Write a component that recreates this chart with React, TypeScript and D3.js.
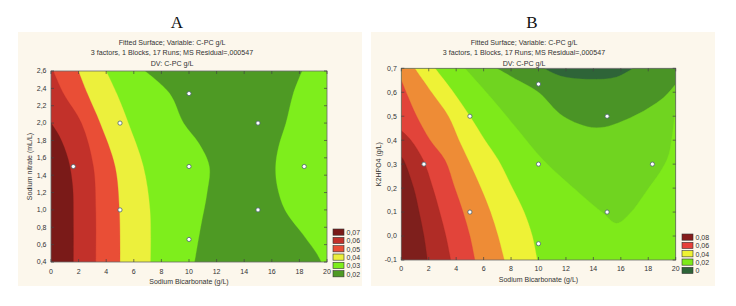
import React from "react";
import * as d3 from "d3";

type P = [number, number];

// ---------- shared text ----------
const TITLE_LINES = [
  "Fitted Surface; Variable: C-PC g/L",
  "3 factors, 1 Blocks, 17 Runs; MS Residual=,000547",
  "DV: C-PC g/L",
];
const X_LABEL = "Sodium Bicarbonate (g/L)";
const X_TICKS = [0, 2, 4, 6, 8, 10, 12, 14, 16, 18, 20];

// ---------- panel A data ----------
const A_Y_TICKS = [0.4, 0.6, 0.8, 1.0, 1.2, 1.4, 1.6, 1.8, 2.0, 2.2, 2.4, 2.6];
const A_Y_LABEL = "Sodium nitrate (mL/L)";
const A_LEGEND_LABELS = ["0,07", "0,06", "0,05", "0,04", "0,03", "0,02"];
const A_LEGEND_COLORS = ["#7a1a18", "#c2312a", "#e94e36", "#ecf03c", "#7eee1c", "#4e9a24"];
const A_BASE_COLOR = "#4e9a24";
// contour boundaries (x, y)
const A_LEVEL_003_LEFT: P[] = [[6.8, 2.6], [8.6, 2.34], [9.6, 2.0], [10.7, 1.77], [11.47, 1.5], [11.3, 1.19], [10.85, 0.81], [10.4, 0.4]];
const A_LEVEL_003_RIGHT: P[] = [[18.2, 2.6], [17.56, 2.34], [17.03, 2.0], [16.5, 1.73], [16.28, 1.5], [16.4, 1.27], [16.96, 1.0], [18.2, 0.73], [19.25, 0.5], [19.6, 0.4]];
const A_LEVEL_004: P[] = [[3.99, 2.6], [4.76, 2.34], [5.6, 2.0], [6.69, 1.5], [7.17, 1.0], [7.2, 0.4]];
const A_LEVEL_005: P[] = [[1.98, 2.6], [2.63, 2.34], [3.55, 2.0], [4.64, 1.5], [4.95, 1.0], [5.0, 0.4]];
const A_LEVEL_006: P[] = [[0.17, 2.6], [0.9, 2.34], [2.2, 2.0], [3.07, 1.5], [3.24, 1.0], [3.24, 0.4]];
const A_LEVEL_007: P[] = [[0, 2.0], [0.6, 1.85], [1.25, 1.58], [1.57, 1.27], [1.62, 0.9], [1.62, 0.4]];
const A_POINTS: P[] = [[1.62, 1.5], [5, 2.0], [5, 1.0], [10, 2.34], [10, 1.5], [10, 0.66], [15, 2.0], [15, 1.0], [18.35, 1.5]];

// ---------- panel B data ----------
const B_Y_TICKS = [-0.1, 0.0, 0.1, 0.2, 0.3, 0.4, 0.5, 0.6, 0.7];
const B_Y_LABEL = "K2HPO4 (g/L)";
const B_LEGEND_LABELS = ["0,08", "0,06", "0,04", "0,02", "0"];
const B_LEGEND_COLORS = ["#861c1c", "#e6403a", "#eef234", "#7eea1a", "#2e6438"];
const B_BASE_COLOR = "#2e6438";
const B_LEVEL_001: P[] = [[10.4, 0.7], [11.6, 0.668], [13.75, 0.654], [15.7, 0.664], [16.9, 0.7]];
const B_LEVEL_002: P[] = [[6.95, 0.7], [8.5, 0.65], [10, 0.6], [11.8, 0.5], [14.2, 0.452], [16.7, 0.494], [19.1, 0.577], [20, 0.634]];
const B_LEVEL_003: P[] = [[4.64, 0.7], [6.5, 0.58], [8.4, 0.45], [10.35, 0.317], [13.0, 0.178], [14.72, 0.095], [15.7, 0.053], [16.67, 0.095], [17.76, 0.178], [19.35, 0.317], [19.75, 0.42], [20, 0.55]];
const B_LEVEL_004: P[] = [[2.46, 0.7], [3.8, 0.6], [5.0, 0.5], [6.1, 0.4], [7.07, 0.317], [8.1, 0.2], [8.95, 0.1], [9.55, 0.0], [9.9, -0.1]];
const B_LEVEL_005: P[] = [[0.97, 0.7], [2.2, 0.6], [3.43, 0.5], [4.2, 0.4], [4.88, 0.317], [5.8, 0.2], [6.5, 0.1], [7.05, 0.0], [7.5, -0.1]];
const B_LEVEL_006: P[] = [[0, 0.65], [0.5, 0.58], [1.12, 0.5], [2.1, 0.4], [3.18, 0.317], [3.9, 0.2], [4.5, 0.1], [5.0, 0.0], [5.36, -0.1]];
const B_LEVEL_007: P[] = [[0, 0.44], [0.7, 0.4], [1.6, 0.317], [2.3, 0.2], [2.8, 0.1], [3.25, 0.0], [3.6, -0.1]];
const B_LEVEL_008: P[] = [[0, 0.33], [0.17, 0.317], [0.9, 0.2], [1.3, 0.1], [1.65, 0.0], [1.9, -0.1]];
const B_POINTS: P[] = [[1.65, 0.3], [5, 0.5], [5, 0.1], [10, 0.634], [10, 0.3], [10, -0.032], [15, 0.5], [15, 0.1], [18.3, 0.3]];

type Region = { pts: P[]; close: P[]; color: string };

type PanelCfg = {
  id: string;
  letter: string;
  letterX: number;
  bg: [number, number, number, number];
  titleX: number;
  plot: { x0: number; x1: number; y0: number; y1: number };
  yDomain: [number, number];
  yTicks: number[];
  yLabel: string;
  yLabelX: number;
  xTickY: number;
  xLabelY: number;
  baseColor: string;
  regions: Region[];
  points: P[];
  legendX: number;
  legendY: number;
  legendLabels: string[];
  legendColors: string[];
};

const FONT = "'Liberation Sans', Arial, sans-serif";
const fmt = (v: number) => (Math.abs(v) < 1e-9 ? "0,0" : v.toFixed(1).replace(".", ","));

function Panel({ c }: { c: PanelCfg }) {
  const { plot } = c;
  const x = d3.scaleLinear().domain([0, 20]).range([plot.x0, plot.x1]);
  const y = d3.scaleLinear().domain(c.yDomain).range([plot.y1, plot.y0]);
  const line = d3
    .line<P>()
    .x((d) => x(d[0]))
    .y((d) => y(d[1]))
    .curve(d3.curveCatmullRom.alpha(0.5));
  const regionPath = (r: Region) =>
    (line(r.pts) || "") + r.close.map((p) => `L${x(p[0])},${y(p[1])}`).join("") + "Z";
  const clipId = `clip-${c.id}`;
  const tickLen = 3;
  return (
    <g>
      <rect x={c.bg[0]} y={c.bg[1]} width={c.bg[2] - c.bg[0]} height={c.bg[3] - c.bg[1]} fill="#fcf7ec" />
      <text x={c.letterX} y={28} fontFamily="'Liberation Serif', 'Times New Roman', serif" fontSize={17} textAnchor="middle" fill="#111">
        {c.letter}
      </text>
      {TITLE_LINES.map((t, i) => (
        <text key={i} x={c.titleX} y={44.5 + i * 10.6} fontFamily={FONT} fontSize={7.1} textAnchor="middle" fill="#333">
          {t}
        </text>
      ))}
      <defs>
        <clipPath id={clipId}>
          <rect x={plot.x0} y={plot.y0} width={plot.x1 - plot.x0} height={plot.y1 - plot.y0} />
        </clipPath>
      </defs>
      <g clipPath={`url(#${clipId})`}>
        <rect x={plot.x0} y={plot.y0} width={plot.x1 - plot.x0} height={plot.y1 - plot.y0} fill={c.baseColor} />
        {c.regions.map((r, i) => (
          <path key={i} d={regionPath(r)} fill={r.color} stroke={r.color} strokeWidth={0.3} />
        ))}
      </g>
      <rect x={plot.x0} y={plot.y0} width={plot.x1 - plot.x0} height={plot.y1 - plot.y0} fill="none" stroke="#6a6a6a" strokeWidth={0.8} />
      {X_TICKS.map((t) => (
        <g key={`x${t}`}>
          <line x1={x(t)} x2={x(t)} y1={plot.y1} y2={plot.y1 - tickLen} stroke="#444" strokeWidth={0.7} />
          <line x1={x(t)} x2={x(t)} y1={plot.y0} y2={plot.y0 + tickLen} stroke="#444" strokeWidth={0.7} />
          <text x={x(t)} y={c.xTickY} fontFamily={FONT} fontSize={7} textAnchor="middle" fill="#333">
            {t}
          </text>
        </g>
      ))}
      {c.yTicks.map((t) => (
        <g key={`y${t}`}>
          <line x1={plot.x0} x2={plot.x0 + tickLen} y1={y(t)} y2={y(t)} stroke="#444" strokeWidth={0.7} />
          <line x1={plot.x1} x2={plot.x1 - tickLen} y1={y(t)} y2={y(t)} stroke="#444" strokeWidth={0.7} />
          <text x={plot.x0 - 4.5} y={y(t) + 2.4} fontFamily={FONT} fontSize={7} textAnchor="end" fill="#333">
            {fmt(t)}
          </text>
        </g>
      ))}
      <text
        transform={`translate(${c.yLabelX},${(plot.y0 + plot.y1) / 2}) rotate(-90)`}
        fontFamily={FONT}
        fontSize={7}
        textAnchor="middle"
        fill="#333"
      >
        {c.yLabel}
      </text>
      <text x={(plot.x0 + plot.x1) / 2} y={c.xLabelY} fontFamily={FONT} fontSize={7} textAnchor="middle" fill="#333">
        {X_LABEL}
      </text>
      {c.points.map((p, i) => (
        <circle key={i} cx={x(p[0])} cy={y(p[1])} r={2.1} fill="#ffffff" stroke="#4d6470" strokeWidth={0.8} />
      ))}
      {c.legendLabels.map((l, i) => (
        <g key={l}>
          <rect x={c.legendX} y={c.legendY + i * 8.33} width={11} height={6.2} fill={c.legendColors[i]} stroke="#333" strokeWidth={0.6} />
          <text x={c.legendX + 13.5} y={c.legendY + i * 8.33 + 6} fontFamily={FONT} fontSize={7} fill="#333">
            {l}
          </text>
        </g>
      ))}
    </g>
  );
}

const A_CFG: PanelCfg = {
  id: "A",
  letter: "A",
  letterX: 177,
  bg: [18, 32, 362, 286],
  titleX: 172,
  plot: { x0: 51, x1: 327, y0: 71, y1: 262 },
  yDomain: [0.4, 2.6],
  yTicks: A_Y_TICKS,
  yLabel: A_Y_LABEL,
  yLabelX: 31.5,
  xTickY: 273.5,
  xLabelY: 284,
  baseColor: A_BASE_COLOR,
  regions: [
    { pts: A_LEVEL_003_LEFT, close: [[0, 0.4], [0, 2.6]], color: A_LEGEND_COLORS[4] },
    { pts: A_LEVEL_003_RIGHT, close: [[20, 0.4], [20, 2.6]], color: A_LEGEND_COLORS[4] },
    { pts: A_LEVEL_004, close: [[0, 0.4], [0, 2.6]], color: A_LEGEND_COLORS[3] },
    { pts: A_LEVEL_005, close: [[0, 0.4], [0, 2.6]], color: A_LEGEND_COLORS[2] },
    { pts: A_LEVEL_006, close: [[0, 0.4], [0, 2.6]], color: A_LEGEND_COLORS[1] },
    { pts: A_LEVEL_007, close: [[0, 0.4]], color: A_LEGEND_COLORS[0] },
  ],
  points: A_POINTS,
  legendX: 333,
  legendY: 229,
  legendLabels: A_LEGEND_LABELS,
  legendColors: A_LEGEND_COLORS,
};

const B_BAND_COLORS = {
  c01: "#4a9426",
  c02: "#70d420",
  c03: "#7eea1a",
  c04: "#eef236",
  c05: "#ee8c36",
  c06: "#e2443a",
  c07: "#b02c26",
  c08: "#7e1f1c",
};

const B_CFG: PanelCfg = {
  id: "B",
  letter: "B",
  letterX: 532,
  bg: [371, 32, 715, 286],
  titleX: 524,
  plot: { x0: 401.3, x1: 675.7, y0: 68.3, y1: 260 },
  yDomain: [-0.1, 0.7],
  yTicks: B_Y_TICKS,
  yLabel: B_Y_LABEL,
  yLabelX: 381,
  xTickY: 271,
  xLabelY: 282,
  baseColor: B_BASE_COLOR,
  regions: [
    { pts: B_LEVEL_001, close: [[20, 0.7], [20, -0.1], [0, -0.1], [0, 0.7]], color: B_BAND_COLORS.c01 },
    { pts: B_LEVEL_002, close: [[20, -0.1], [0, -0.1], [0, 0.7]], color: B_BAND_COLORS.c02 },
    { pts: B_LEVEL_003, close: [[20, -0.1], [0, -0.1], [0, 0.7]], color: B_BAND_COLORS.c03 },
    { pts: B_LEVEL_004, close: [[0, -0.1], [0, 0.7]], color: B_BAND_COLORS.c04 },
    { pts: B_LEVEL_005, close: [[0, -0.1], [0, 0.7]], color: B_BAND_COLORS.c05 },
    { pts: B_LEVEL_006, close: [[0, -0.1]], color: B_BAND_COLORS.c06 },
    { pts: B_LEVEL_007, close: [[0, -0.1]], color: B_BAND_COLORS.c07 },
    { pts: B_LEVEL_008, close: [[0, -0.1]], color: B_BAND_COLORS.c08 },
  ],
  points: B_POINTS,
  legendX: 682,
  legendY: 234,
  legendLabels: B_LEGEND_LABELS,
  legendColors: B_LEGEND_COLORS,
};

export default function App() {
  return (
    <svg
      width={736}
      height={306}
      viewBox="0 0 736 306"
      style={{ position: "absolute", left: 0, top: 0, display: "block", background: "#ffffff" }}
    >
      <Panel c={A_CFG} />
      <Panel c={B_CFG} />
    </svg>
  );
}
